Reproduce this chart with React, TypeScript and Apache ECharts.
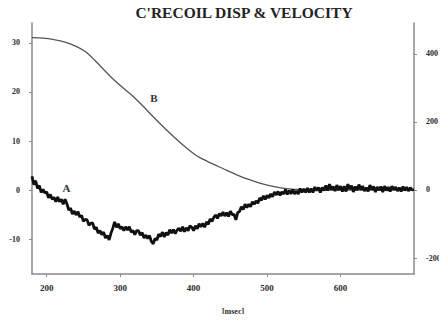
import React, { useEffect, useRef } from "react";
import * as echarts from "echarts";

const titleText = "C'RECOIL DISP & VELOCITY";
const xTicks = [200, 300, 400, 500, 600];
const leftTicks = [-10, 0, 10, 20, 30];
const rightTicks = [-200, 0, 200, 400];
const xAxisName = "[msec]";

// Curve B (displacement): times [msec] and values on left scale
const bTimes = [180, 195, 210, 225, 240, 252, 262, 275, 290, 305, 317, 330, 344, 360, 377, 390, 404, 418, 435, 450, 462, 476, 490, 503, 517, 530, 544, 565, 585, 640, 700];
const bValues = [31.1, 31.0, 30.7, 30.2, 29.3, 28.3, 27.0, 25.0, 22.7, 20.7, 19.2, 17.3, 15.1, 12.7, 10.3, 8.6, 7.0, 5.9, 4.7, 3.7, 2.9, 2.1, 1.4, 0.9, 0.5, 0.25, 0.1, 0.02, 0, 0, 0];

// Curve A (velocity): sampled every 2.5 msec starting at 180 msec
const aStart = 180;
const aStep = 2.5;
const aValues = [
  2.8, 1.1, 1.9, 0.3, 0.9, -0.5, 0.1, -0.6, -0.4, -1.6,
  -0.9, -1.9, -1.5, -2.4, -1.4, -2.4, -1.9, -2.9, -1.9, -2.8,
  -4.1, -3.7, -4.9, -4.3, -5.1, -4.4, -5.5, -5.2, -6.4, -6.0,
  -6.1, -7.2, -6.8, -6.7, -8.0, -7.6, -8.8, -8.3, -9.1, -8.6,
  -9.8, -9.3, -10.2, -8.8, -7.8, -6.5, -7.6, -6.9, -7.9, -7.5,
  -8.3, -7.5, -8.2, -7.5, -8.6, -8.3, -9.1, -8.3, -8.3, -9.2,
  -8.7, -9.8, -9.2, -9.9, -9.3, -10.5, -11.0, -9.9, -10.2, -9.0,
  -9.5, -8.6, -9.6, -8.7, -9.2, -8.1, -8.8, -8.1, -8.9, -8.2,
  -7.8, -8.4, -7.5, -8.5, -7.7, -8.3, -7.3, -7.6, -8.3, -7.3,
  -7.9, -6.9, -7.5, -6.8, -7.6, -6.5, -7.0, -5.9, -6.4, -5.6,
  -5.1, -5.8, -4.8, -5.3, -4.5, -5.3, -4.6, -5.4, -4.3, -5.0,
  -5.0, -6.1, -4.6, -4.4, -3.4, -4.0, -2.9, -3.6, -2.9, -3.4,
  -2.4, -2.9, -2.2, -2.7, -1.6, -2.1, -1.2, -1.9, -1.1, -1.6,
  -0.8, -1.4, -0.4, -1.0, -0.3, -1.1, -0.4, -0.8, 0.1, -0.9,
  -0.1, -0.8, 0.1, -0.8, -0.2, -0.8, 0.3, -0.5, 0.2, -0.5,
  0.4, -0.5, 0.3, -0.5, 0.6, -0.1, 0.5, -0.5, 0.5, -0.1,
  0.9, -0.1, 1.2, 0.1, 0.7, -0.2, 1.0, 0.0, 0.8, -0.3,
  0.8, -0.3, 1.2, 0.2, 0.9, -0.4, 0.7, 0.0, 1.1, 0.1,
  0.8, -0.2, 0.5, -0.3, 1.0, 0.1, 0.7, -0.4, 0.6, 0.0,
  0.7, -0.4, 0.8, -0.1, 0.6, -0.3, 0.8, 0.1, 0.6, -0.2,
  0.5, -0.3, 0.7, -0.1, 0.6, -0.2, 0.5, 0.0, 0.1,
];

const labelA = { text: "A", coord: [227, 0.4] };
const labelB = { text: "B", coord: [346, 18.8] };

const FONT = "'Liberation Serif', 'DejaVu Serif', serif";
const AXIS_COLOR = "#8a8a8a";
const LABEL_COLOR = "#2a2a2a";

export default function App() {
  const ref = useRef<HTMLDivElement>(null);
  useEffect(() => {
    if (!ref.current) return;
    const chart = echarts.init(ref.current, null, { renderer: "svg" });
    const seriesB = bTimes.map((t, i) => [t, bValues[i]]);
    const seriesA = aValues.map((v, i) => [aStart + i * aStep, v]);
    const tickLabel = {
      fontFamily: FONT,
      fontWeight: "bold" as const,
      fontSize: 8,
      color: LABEL_COLOR,
    };
    const mark = (l: { text: string; coord: number[] }) => ({
      symbol: "circle",
      symbolSize: 0,
      silent: true,
      data: [
        {
          coord: l.coord,
          label: {
            show: true,
            formatter: l.text,
            position: "inside",
            fontFamily: FONT,
            fontWeight: "bold",
            fontSize: 11,
            color: "#333",
          },
        },
      ],
    });
    chart.setOption({
      animation: false,
      backgroundColor: "#ffffff",
      graphic: [
        {
          type: "text",
          x: 244,
          y: 12.5,
          style: {
            text: titleText,
            fontFamily: FONT,
            fontWeight: "bold",
            fontSize: 15.5,
            fill: "#222",
            textAlign: "center",
            textVerticalAlign: "middle",
          },
        },
      ],
      grid: { left: 32, right: 33, top: 23, bottom: 48, containLabel: false },
      xAxis: {
        type: "value",
        min: 180,
        max: 700,
        name: xAxisName,
        nameLocation: "middle",
        nameGap: 33,
        nameTextStyle: { ...tickLabel, fontSize: 8, padding: [0, 0, 0, 20] },
        axisLine: { show: true, onZero: false, lineStyle: { color: AXIS_COLOR, width: 1.5 } },
        axisTick: { show: true, length: 3, customValues: xTicks, lineStyle: { color: AXIS_COLOR } },
        axisLabel: { ...tickLabel, fontSize: 9, margin: 9, customValues: xTicks },
        splitLine: { show: false },
      },
      yAxis: [
        {
          type: "value",
          min: -17.14,
          max: 34.08,
          position: "left",
          axisLine: { show: true, onZero: false, lineStyle: { color: AXIS_COLOR, width: 1.5 } },
          axisTick: { show: true, length: 3, customValues: leftTicks, lineStyle: { color: AXIS_COLOR } },
          axisLabel: { ...tickLabel, margin: 12, customValues: leftTicks },
          splitLine: { show: false },
        },
        {
          type: "value",
          min: -247,
          max: 491,
          position: "right",
          axisLine: { show: true, onZero: false, lineStyle: { color: AXIS_COLOR, width: 1.5 } },
          axisTick: { show: true, length: 3, customValues: rightTicks, lineStyle: { color: AXIS_COLOR } },
          axisLabel: { ...tickLabel, margin: 12, customValues: rightTicks },
          splitLine: { show: false },
        },
      ],
      series: [
        {
          type: "line",
          name: "B",
          data: seriesB,
          smooth: 0.3,
          showSymbol: false,
          lineStyle: { color: "#555", width: 1.3 },
          markPoint: mark(labelB),
        },
        {
          type: "line",
          name: "A",
          data: seriesA,
          showSymbol: false,
          lineStyle: { color: "#111", width: 2.8 },
          markPoint: mark(labelA),
        },
      ],
    });
    return () => chart.dispose();
  }, []);
  return <div ref={ref} style={{ width: 447, height: 322, margin: -8 }} />;
}
